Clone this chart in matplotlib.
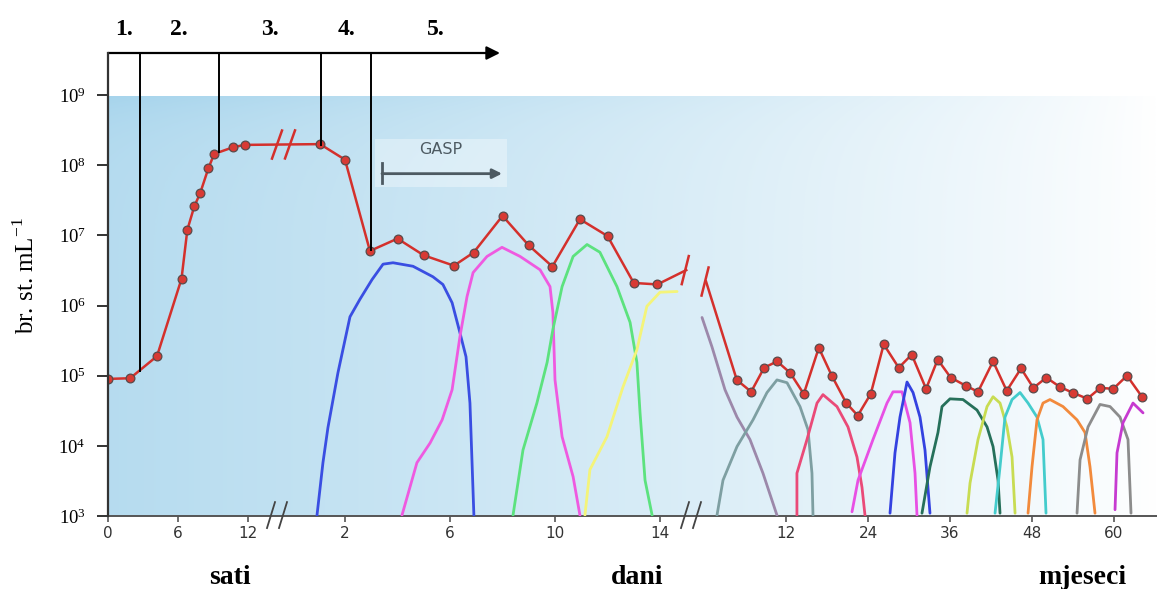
import numpy as np
import matplotlib
matplotlib.use("Agg")
import matplotlib.pyplot as plt
from matplotlib.colors import to_rgb

# ---------------- data ----------------
# total counts (red series)
red_hours = [0, 1.9, 4.2, 6.3, 6.8, 7.4, 7.9, 8.6, 9.1, 10.7, 11.7]
red_hours_val = [9.0e4, 9.2e4, 1.9e5, 2.4e6, 1.2e7, 2.6e7, 4.0e7, 9.0e7, 1.45e8, 1.8e8, 1.95e8]
red_days = [1.05, 2.0, 2.95, 4.0, 5.0, 6.15, 6.9, 8.0, 9.0, 9.9, 10.95, 12.0, 13.0, 13.9]
red_days_val = [2.0e8, 1.2e8, 6.0e6, 9.0e6, 5.2e6, 3.7e6, 5.7e6, 1.9e7, 7.2e6, 3.6e6, 1.7e7, 9.8e6, 2.1e6, 2.0e6]
red_days_end = 15.0
red_days_end_val = 3.2e6
red_months_start = 0.3
red_months_start_val = 2.2e6
red_months = [4.8, 6.9, 8.8, 10.7, 12.6, 14.6, 16.8, 18.7, 20.8, 22.5, 24.4, 26.3, 28.5, 30.4,
              32.5, 34.2, 36.1, 38.3, 40.1, 42.3, 44.3, 46.4, 48.2, 50.1, 52.1, 54.0, 56.1,
              58.0, 59.9, 61.9, 64.1]
red_months_val = [8.7e4, 5.9e4, 1.3e5, 1.6e5, 1.1e5, 5.5e4, 2.5e5, 1.0e5, 4.1e4, 2.7e4, 5.5e4,
                  2.8e5, 1.3e5, 2.0e5, 6.5e4, 1.7e5, 9.4e4, 7.2e4, 5.9e4, 1.6e5, 6.1e4, 1.27e5,
                  6.7e4, 9.4e4, 6.9e4, 5.7e4, 4.7e4, 6.7e4, 6.5e4, 1.0e5, 5.0e4]

# GASP mutant sub-populations, days (log10 counts)
blue_d = [0.93, 1.16, 1.35, 1.73, 2.19, 2.57, 3.03, 3.45, 3.83, 4.59, 5.35, 5.73, 6.08, 6.38, 6.61, 6.76, 6.84, 6.91]
blue_l = [3.0, 3.76, 4.26, 5.04, 5.84, 6.09, 6.37, 6.59, 6.61, 6.56, 6.41, 6.30, 6.04, 5.61, 5.27, 4.61, 3.76, 3.01]
magenta_d = [4.17, 4.74, 5.24, 5.70, 6.08, 6.38, 6.65, 6.88, 7.41, 7.98, 8.67, 9.43, 9.81, 9.92, 10.0, 10.27, 10.69, 10.95]
magenta_l = [3.01, 3.76, 4.04, 4.37, 4.8, 5.56, 6.13, 6.47, 6.7, 6.83, 6.7, 6.51, 6.27, 5.9, 4.94, 4.13, 3.56, 3.01]
green_d = [8.4, 8.78, 9.31, 9.7, 9.92, 10.27, 10.69, 11.22, 11.71, 12.36, 12.86, 13.12, 13.24, 13.43, 13.7]
green_l = [3.01, 3.94, 4.61, 5.19, 5.66, 6.27, 6.7, 6.87, 6.76, 6.27, 5.76, 5.19, 4.47, 3.51, 3.01]
yellow_d = [11.14, 11.33, 11.98, 12.59, 13.12, 13.5, 14.0, 14.65]
yellow_l = [3.01, 3.66, 4.13, 4.84, 5.37, 5.99, 6.19, 6.2]

# sub-populations, months (log10 counts)
month_curves = [
    ("#9c88aa", [-0.29, 1.17, 3.07, 4.83, 6.73, 8.63, 10.68], [5.83, 5.41, 4.8, 4.41, 4.09, 3.61, 3.01]),
    ("#7e9fa2", [1.9, 2.78, 4.83, 7.17, 9.22, 10.68, 12.15, 14.05, 15.22, 15.8, 15.95],
                [3.01, 3.51, 3.99, 4.37, 4.76, 4.94, 4.9, 4.56, 4.23, 3.61, 3.01]),
    ("#ea4a78", [13.6, 13.6, 15.07, 16.54, 17.41, 19.46, 21.07, 22.39, 23.12, 23.56],
                [3.01, 3.61, 4.09, 4.61, 4.73, 4.56, 4.27, 3.84, 3.41, 3.01]),
    ("#e850e4", [21.66, 22.54, 24.73, 26.78, 27.66, 28.98, 30.15, 30.88, 31.17],
                [3.06, 3.51, 4.09, 4.61, 4.77, 4.77, 4.33, 3.61, 3.01]),
    ("#3442e0", [27.22, 27.95, 28.68, 29.71, 30.59, 31.61, 32.34, 33.07],
                [3.04, 3.9, 4.41, 4.91, 4.76, 4.41, 3.94, 3.04]),
    ("#26705a", [31.9, 33.07, 34.24, 34.83, 36.0, 37.9, 39.95, 41.42, 42.3, 43.03, 43.32],
                [3.04, 3.7, 4.19, 4.56, 4.67, 4.66, 4.51, 4.27, 3.99, 3.51, 3.04]),
    ("#c8dc52", [38.49, 38.93, 40.1, 41.42, 42.3, 43.32, 44.34, 45.08, 45.52],
                [3.04, 3.47, 4.09, 4.56, 4.7, 4.61, 4.27, 3.84, 3.04]),
    ("#44cccc", [42.59, 43.32, 44.05, 45.08, 46.25, 47.42, 48.73, 49.61, 50.05],
                [3.04, 3.7, 4.41, 4.66, 4.76, 4.61, 4.41, 4.09, 3.04]),
    ("#f28a3c", [47.42, 48.0, 48.73, 49.61, 50.63, 52.54, 54.59, 55.76, 56.49, 57.22],
                [3.04, 3.7, 4.37, 4.61, 4.66, 4.56, 4.37, 4.19, 3.7, 3.04]),
    ("#8c8c8c", [54.59, 55.03, 56.2, 57.95, 59.42, 60.88, 62.05, 62.49],
                [3.04, 3.8, 4.27, 4.59, 4.56, 4.41, 4.09, 3.04]),
    ("#c63ad0", [60.15, 60.44, 61.32, 62.78, 64.25],
                [3.09, 3.9, 4.33, 4.61, 4.47]),
]

hour_ticks = [0, 6, 12]
day_ticks = [2, 6, 10, 14]
month_ticks = [12, 24, 36, 48, 60]
y_exponents = [3, 4, 5, 6, 7, 8, 9]
stage_labels = ["1.", "2.", "3.", "4.", "5."]
stage_hours = [2.7, 9.5]
stage_days = [1.1, 3.0]
unit_labels = ["sati", "dani", "mjeseci"]

# ---------------- layout helpers (broken x axis -> one position axis) ----------------
def hx(h):
    return np.asarray(h, float) * 140 / 12

def dx(d):
    return 237 + (np.asarray(d, float) - 2) * 26.25

def mx(m):
    return 678 + (np.asarray(m, float) - 12) * 82 / 12

W, H = 1157, 589
fig = plt.figure(figsize=(W / 100, H / 100), dpi=100)
ax = fig.add_axes([108 / W, 73 / H, 1049 / W, 463 / H])
ax.set_yscale("log")
ax.set_xlim(0, 1049)
ax.set_ylim(1e3, 10 ** 9.6)

# background gradient
nx, ny = 300, 60
xs = np.linspace(0, 1, nx)
ys = np.linspace(0, 1, ny)[:, None]
t = (1 - xs[None, :]) ** 0.85 * (0.82 + 0.18 * (1 - ys))
blue = np.array(to_rgb("#a6d4ec"))
img = 1 - t[..., None] * (1 - blue[None, None, :])
img = np.clip(img, 0, 1)
ax.imshow(img, extent=(0, 1049, 1e3, 1e9), aspect="auto", origin="upper", zorder=0,
          interpolation="bilinear")

# GASP box
ax.fill_between([267, 399], 10 ** 7.69, 10 ** 8.37, color="white", alpha=0.35, lw=0, zorder=1)
ax.text(333, 10 ** 8.22, "GASP", ha="center", va="center", fontsize=11.5, color="#4d5a62",
        family="DejaVu Sans", zorder=3)
ax.annotate("", xy=(394, 10 ** 7.88), xytext=(274, 10 ** 7.88),
            arrowprops=dict(arrowstyle="-|>", color="#4d5a62", lw=2.0, mutation_scale=14,
                            shrinkA=0, shrinkB=0), zorder=3)
ax.plot([274, 274], [10 ** 7.74, 10 ** 8.03], color="#4d5a62", lw=2.0, zorder=3)

# sub-population curves
for xd, lv, c in [(blue_d, blue_l, "#3a4ee2"), (magenta_d, magenta_l, "#ef5ae0"),
                  (green_d, green_l, "#5ce27e"), (yellow_d, yellow_l, "#f4f47a")]:
    ax.plot(dx(xd), 10 ** np.asarray(lv), color=c, lw=2.0, zorder=4, solid_capstyle="round")
for c, xm, lv in month_curves:
    ax.plot(mx(xm), 10 ** np.asarray(lv), color=c, lw=2.0, zorder=4, solid_capstyle="round")

# red total series
rc = "#d4302c"
pos1 = np.concatenate([hx(red_hours), dx(red_days), dx([red_days_end])])
val1 = np.concatenate([red_hours_val, red_days_val, [red_days_end_val]])
pos2 = np.concatenate([mx([red_months_start]), mx(red_months)])
val2 = np.concatenate([[red_months_start_val], red_months_val])
ax.plot(pos1, val1, color=rc, lw=1.8, zorder=5)
ax.plot(pos2, val2, color=rc, lw=1.8, zorder=5)
mk = dict(ls="none", marker="o", ms=6.3, mfc="#d83a34", mec="#5a4a4a", mew=0.9, zorder=6)
ax.plot(pos1[:-1], val1[:-1], **mk)
ax.plot(pos2[1:], val2[1:], **mk)

# break slashes on red line
def slash(x, v, dxp=5, dl=0.2):
    ax.plot([x - dxp, x + dxp], [v * 10 ** (-dl), v * 10 ** dl], color=rc, lw=1.8, zorder=5)

logv1 = np.log10(val1)
for bx in [169, 182]:
    slash(bx, 10 ** np.interp(bx, pos1, logv1))
slash(pos1[-1] - 1, val1[-1], dxp=3.5)
slash(pos2[0] - 1, val2[0], dxp=3.5)

# stage boundaries + top arrow
stage_pos = list(hx(stage_hours)) + list(dx(stage_days))
top = 10 ** 9.6
for sp in stage_pos:
    yv = 10 ** np.interp(sp, pos1, logv1)
    ax.plot([sp, sp], [yv, top], color="black", lw=1.4, zorder=7, clip_on=False)
ax.annotate("", xy=(392, top), xytext=(0, top), xycoords="data",
            arrowprops=dict(arrowstyle="-|>", color="black", lw=1.6, mutation_scale=20,
                            shrinkA=0, shrinkB=0), annotation_clip=False, zorder=8)
bounds = [0] + stage_pos + [392]
for i, lab in enumerate(stage_labels):
    xm_ = (bounds[i] + bounds[i + 1]) / 2
    ax.text(xm_, 10 ** 9.93, lab, ha="center", va="center", fontsize=17, fontweight="bold",
            family="Liberation Serif", clip_on=False)

# axes styling
for s in ["top", "right"]:
    ax.spines[s].set_visible(False)
ax.spines["left"].set_color("#333333")
ax.spines["bottom"].set_color("#555555")
ax.spines["left"].set_linewidth(1.6)
ax.spines["bottom"].set_linewidth(1.4)
ax.spines["left"].set_zorder(9)

ax.set_yticks([10.0 ** e for e in y_exponents])
ax.set_yticklabels([r"$\mathregular{10^{%d}}$" % e for e in y_exponents],
                   family="Liberation Serif", fontsize=13.5)
ax.yaxis.set_minor_locator(matplotlib.ticker.NullLocator())
ax.tick_params(axis="y", direction="out", length=8, width=1.4, color="#333333", pad=8)

xt = list(hx(hour_ticks)) + list(dx(day_ticks)) + list(mx(month_ticks))
xl = [str(v) for v in hour_ticks + day_ticks + month_ticks]
ax.set_xticks(xt)
ax.set_xticklabels(xl, family=["Liberation Sans Narrow", "DejaVu Sans"], fontsize=11,
                   color="#333333")
ax.tick_params(axis="x", direction="out", length=4, width=1.2, color="#555555", pad=3)

# axis break marks
trans = matplotlib.transforms.blended_transform_factory(ax.transData, ax.transAxes)
for bx in [163, 175, 577, 589]:
    ax.plot([bx - 4, bx + 4], [-0.026, 0.030], color="#444444", lw=1.3, transform=trans,
            clip_on=False, zorder=9)

# labels
fig.text(26 / W, 1 - 275 / H, r"br. st. mL$^{\mathregular{-1}}$", rotation=90, ha="center",
         va="center", fontsize=18, family="Liberation Serif")
for lab, px in zip(unit_labels, [230, 637, 1082]):
    fig.text(px / W, 1 - 577 / H, lab, ha="center", va="center", fontsize=20,
             fontweight="bold", family="Liberation Serif")

fig.savefig("out.png", dpi=100)
